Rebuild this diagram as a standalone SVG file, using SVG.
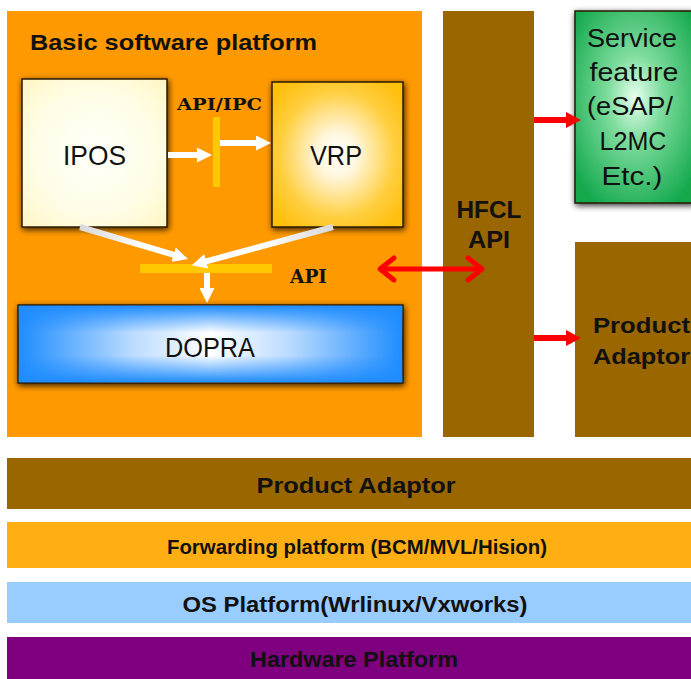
<svg xmlns="http://www.w3.org/2000/svg" width="691" height="679" viewBox="0 0 691 679">
<style>
.bold{font-family:"Liberation Sans",Arial,sans-serif;font-weight:bold;fill:#111}
.reg{font-family:"Liberation Sans",Arial,sans-serif;fill:#111}
.serifb{font-family:"DejaVu Serif","Liberation Serif",serif;font-weight:bold;fill:#111}
.box{stroke:#2a1a00;stroke-width:1.5}
.wline{stroke:#fff;stroke-width:6;fill:none}
.rline{stroke:#f00;stroke-width:6;fill:none}
.ybar{fill:#ffc800}
</style>
<defs>
<filter id="sh" x="-10%" y="-10%" width="120%" height="125%">
<feGaussianBlur in="SourceAlpha" stdDeviation="3"/>
<feOffset dx="1" dy="2" result="b"/>
<feComponentTransfer><feFuncA type="linear" slope="0.8"/></feComponentTransfer>
<feMerge><feMergeNode/><feMergeNode in="SourceGraphic"/></feMerge>
</filter>
<radialGradient id="gIpos" cx="0.5" cy="0.5" r="0.7">
<stop offset="0" stop-color="#fffffa"/><stop offset="0.6" stop-color="#fffde6"/><stop offset="1" stop-color="#fff6c4"/>
</radialGradient>
<radialGradient id="gVrp" cx="0.5" cy="0.5" r="0.62">
<stop offset="0" stop-color="#ffffff"/><stop offset="0.25" stop-color="#fff6dc"/><stop offset="0.7" stop-color="#ffcf40"/><stop offset="1" stop-color="#ffbf10"/>
</radialGradient>
<linearGradient id="gDopH" x1="0" y1="0" x2="1" y2="0">
<stop offset="0" stop-color="#1e8cff"/><stop offset="0.3" stop-color="#bcdcff"/><stop offset="0.5" stop-color="#ffffff"/><stop offset="0.7" stop-color="#bcdcff"/><stop offset="1" stop-color="#1e8cff"/>
</linearGradient>
<linearGradient id="gDopV" x1="0" y1="0" x2="0" y2="1">
<stop offset="0" stop-color="#1e8cff" stop-opacity="1"/><stop offset="0.35" stop-color="#1e8cff" stop-opacity="0"/><stop offset="0.65" stop-color="#1e8cff" stop-opacity="0"/><stop offset="1" stop-color="#1e8cff" stop-opacity="1"/>
</linearGradient>
<radialGradient id="gGreen" cx="0.5" cy="0.45" r="0.65">
<stop offset="0" stop-color="#e8fff0"/><stop offset="0.35" stop-color="#7ddc9c"/><stop offset="1" stop-color="#12a84c"/>
</radialGradient>
<linearGradient id="gWL" gradientUnits="userSpaceOnUse" x1="80" y1="227" x2="188" y2="259">
<stop offset="0" stop-color="#d8d8d8"/><stop offset="0.6" stop-color="#ffffff"/>
</linearGradient>
<linearGradient id="gWR" gradientUnits="userSpaceOnUse" x1="333" y1="227" x2="215" y2="259">
<stop offset="0" stop-color="#d8d8d8"/><stop offset="0.6" stop-color="#ffffff"/>
</linearGradient>
<marker id="mw" markerUnits="userSpaceOnUse" viewBox="0 0 15 15" markerWidth="15" markerHeight="15" refX="3" refY="7.5" orient="auto">
<path d="M0,0 L15,7.5 L0,15 z" fill="#fff"/>
</marker>
<marker id="mr" markerUnits="userSpaceOnUse" viewBox="0 0 15 16" markerWidth="15" markerHeight="16" refX="3" refY="8" orient="auto">
<path d="M0,0 L15,8 L0,16 z" fill="#f00"/>
</marker>
<marker id="mc" markerUnits="userSpaceOnUse" viewBox="-4 -4 22 30" markerWidth="22" markerHeight="30" refX="14" refY="11" orient="auto-start-reverse">
<path d="M0,0 L14,11 L0,22" fill="none" stroke="#f00" stroke-width="5" stroke-linecap="round" stroke-linejoin="round"/>
</marker>
</defs>

<rect x="0" y="0" width="691" height="679" fill="#fff"/>

<g id="basic-platform">
<rect x="7" y="11" width="415" height="426" fill="#ff9900"/>
<text class="bold" x="30" y="50" font-size="22" textLength="287" lengthAdjust="spacingAndGlyphs">Basic software platform</text>
</g>

<g id="ipos">
<rect class="box" x="22" y="79" width="145" height="148" fill="url(#gIpos)" filter="url(#sh)"/>
<text class="reg" x="94.5" y="165" font-size="28" text-anchor="middle" textLength="63" lengthAdjust="spacingAndGlyphs">IPOS</text>
</g>

<g id="vrp">
<rect class="box" x="272" y="82" width="131" height="145" fill="url(#gVrp)" filter="url(#sh)"/>
<text class="reg" x="336" y="165" font-size="28" text-anchor="middle" textLength="52" lengthAdjust="spacingAndGlyphs">VRP</text>
</g>

<g id="api-ipc">
<rect class="ybar" x="213" y="117" width="7" height="70"/>
<text class="serifb" x="219.5" y="110" font-size="17" text-anchor="middle" textLength="85" lengthAdjust="spacingAndGlyphs">API/IPC</text>
</g>

<g id="api-bar">
<rect class="ybar" x="140" y="264" width="132" height="9"/>
<text class="serifb" x="308.5" y="283" font-size="18" text-anchor="middle" textLength="37" lengthAdjust="spacingAndGlyphs">API</text>
</g>

<g id="dopra">
<rect class="box" x="18" y="305" width="385" height="78" fill="url(#gDopH)" filter="url(#sh)"/>
<rect x="18.75" y="305.75" width="383.5" height="76.5" fill="url(#gDopV)"/>
<text class="reg" x="210" y="357" font-size="28" text-anchor="middle" textLength="90" lengthAdjust="spacingAndGlyphs">DOPRA</text>
</g>

<g id="hfcl-api">
<rect x="443" y="11" width="91" height="426" fill="#996600"/>
<text class="bold" x="489" y="218" font-size="23" text-anchor="middle" textLength="65" lengthAdjust="spacingAndGlyphs">HFCL</text>
<text class="bold" x="489" y="248" font-size="23" text-anchor="middle" textLength="42" lengthAdjust="spacingAndGlyphs">API</text>
</g>

<g id="service-feature">
<rect class="box" x="575" y="11" width="120" height="192" fill="url(#gGreen)" filter="url(#sh)"/>
<g class="reg" font-size="26" text-anchor="middle">
<text x="632" y="47" textLength="90" lengthAdjust="spacingAndGlyphs">Service</text>
<text x="634" y="81" textLength="89" lengthAdjust="spacingAndGlyphs">feature</text>
<text x="630" y="115" textLength="86" lengthAdjust="spacingAndGlyphs">(eSAP/</text>
<text x="633" y="150" textLength="67" lengthAdjust="spacingAndGlyphs">L2MC</text>
<text x="632" y="185" textLength="61" lengthAdjust="spacingAndGlyphs">Etc.)</text>
</g>
</g>

<g id="product-adaptor-side">
<rect x="575" y="242" width="116" height="195" fill="#996600"/>
<text class="bold" x="593" y="333" font-size="22" textLength="97" lengthAdjust="spacingAndGlyphs">Product</text>
<text class="bold" x="593" y="364" font-size="22" textLength="97" lengthAdjust="spacingAndGlyphs">Adaptor</text>
</g>

<g id="product-adaptor">
<rect x="7" y="458" width="684" height="51" fill="#996600"/>
<text class="bold" x="356" y="493" font-size="22" text-anchor="middle" textLength="199" lengthAdjust="spacingAndGlyphs">Product Adaptor</text>
</g>

<g id="forwarding-platform">
<rect x="7" y="522" width="684" height="46" fill="#ffaf14"/>
<text class="bold" x="357" y="554" font-size="20" text-anchor="middle" textLength="380" lengthAdjust="spacingAndGlyphs">Forwarding platform (BCM/MVL/Hision)</text>
</g>

<g id="os-platform">
<rect x="7" y="582" width="684" height="41" fill="#99ccff"/>
<text class="bold" x="355" y="612" font-size="22" text-anchor="middle" textLength="345" lengthAdjust="spacingAndGlyphs">OS Platform(Wrlinux/Vxworks)</text>
</g>

<g id="hardware-platform">
<rect x="7" y="637" width="684" height="42" fill="#7f007f"/>
<text class="bold" x="354" y="667" font-size="22" text-anchor="middle" fill="#1a001a" textLength="208" lengthAdjust="spacingAndGlyphs">Hardware Platform</text>
</g>

<g id="connectors">
<line class="wline" x1="168" y1="155" x2="200" y2="155" marker-end="url(#mw)"/>
<line class="wline" x1="220" y1="143" x2="259" y2="143" marker-end="url(#mw)"/>
<line x1="80" y1="227" x2="176.5" y2="255.6" stroke="url(#gWL)" stroke-width="6" marker-end="url(#mw)"/>
<line x1="333" y1="227" x2="203.4" y2="262.1" stroke="url(#gWR)" stroke-width="6" marker-end="url(#mw)"/>
<line class="wline" x1="207" y1="273" x2="207" y2="291" marker-end="url(#mw)"/>
<line x1="380" y1="269" x2="482" y2="269" stroke="#f00" stroke-width="5" marker-start="url(#mc)" marker-end="url(#mc)"/>
<line class="rline" x1="534" y1="120" x2="569" y2="120" marker-end="url(#mr)"/>
<line class="rline" x1="534" y1="338" x2="569" y2="338" marker-end="url(#mr)"/>
</g>
</svg>
